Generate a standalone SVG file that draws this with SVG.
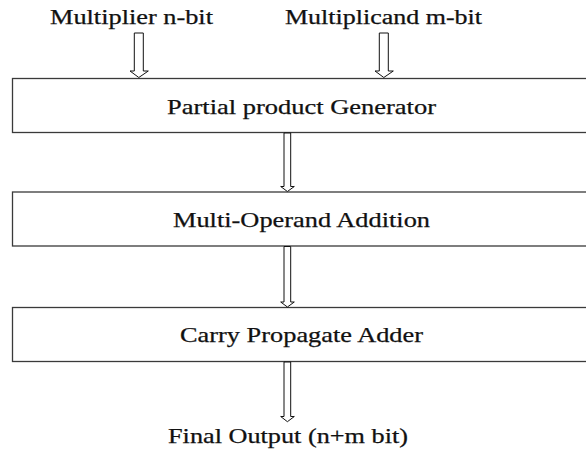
<svg xmlns="http://www.w3.org/2000/svg" width="586" height="452" viewBox="0 0 586 452">
<style>
.box{fill:#fff;stroke:#3a3a3a;stroke-width:1.3}
.arr{fill:#fff;stroke:#111;stroke-width:1}
.lbl{font-family:'Liberation Serif','Times New Roman',serif;fill:#111;stroke:#111;stroke-width:0.25}
.t20{font-size:20px}
.t21{font-size:21px}
</style>
<rect width="586" height="452" fill="#fff"/>
<g id="input-multiplier"><text class="lbl t20" x="50" y="23.5" textLength="163" lengthAdjust="spacingAndGlyphs">Multiplier n-bit</text></g>
<g id="input-multiplicand"><text class="lbl t20" x="285" y="23.5" textLength="197" lengthAdjust="spacingAndGlyphs">Multiplicand m-bit</text></g>
<g id="ppg"><rect class="box" x="12.5" y="78.5" width="600" height="54"/><text class="lbl t21" x="167" y="114" textLength="269" lengthAdjust="spacingAndGlyphs">Partial product Generator</text></g>
<g id="moa"><rect class="box" x="12.5" y="192" width="600" height="54"/><text class="lbl t21" x="173" y="226.5" textLength="257" lengthAdjust="spacingAndGlyphs">Multi-Operand Addition</text></g>
<g id="cpa"><rect class="box" x="12.5" y="307.5" width="600" height="54"/><text class="lbl t21" x="180" y="341.5" textLength="243" lengthAdjust="spacingAndGlyphs">Carry Propagate Adder</text></g>
<g id="output"><text class="lbl t21" x="168" y="443" textLength="240" lengthAdjust="spacingAndGlyphs">Final Output (n+m bit)</text></g>
<g id="connectors">
<polygon class="arr" points="134.3,33 143.3,33 143.3,71 148.3,71 138.8,77.5 130,71 134.3,71"/>
<polygon class="arr" points="379.3,33 388.3,33 388.3,71 393.3,71 383.8,77.5 375,71 379.3,71"/>
<polygon class="arr" points="284,133 290.7,133 290.7,186.5 294.3,186.5 287.4,191.5 280.7,186.5 284,186.5"/>
<polygon class="arr" points="284,246.5 290.7,246.5 290.7,302 294.3,302 287.4,307 280.7,302 284,302"/>
<polygon class="arr" points="284,362 290.7,362 290.7,416.5 294.3,416.5 287.4,421.7 280.7,416.5 284,416.5"/>
</g>
</svg>
